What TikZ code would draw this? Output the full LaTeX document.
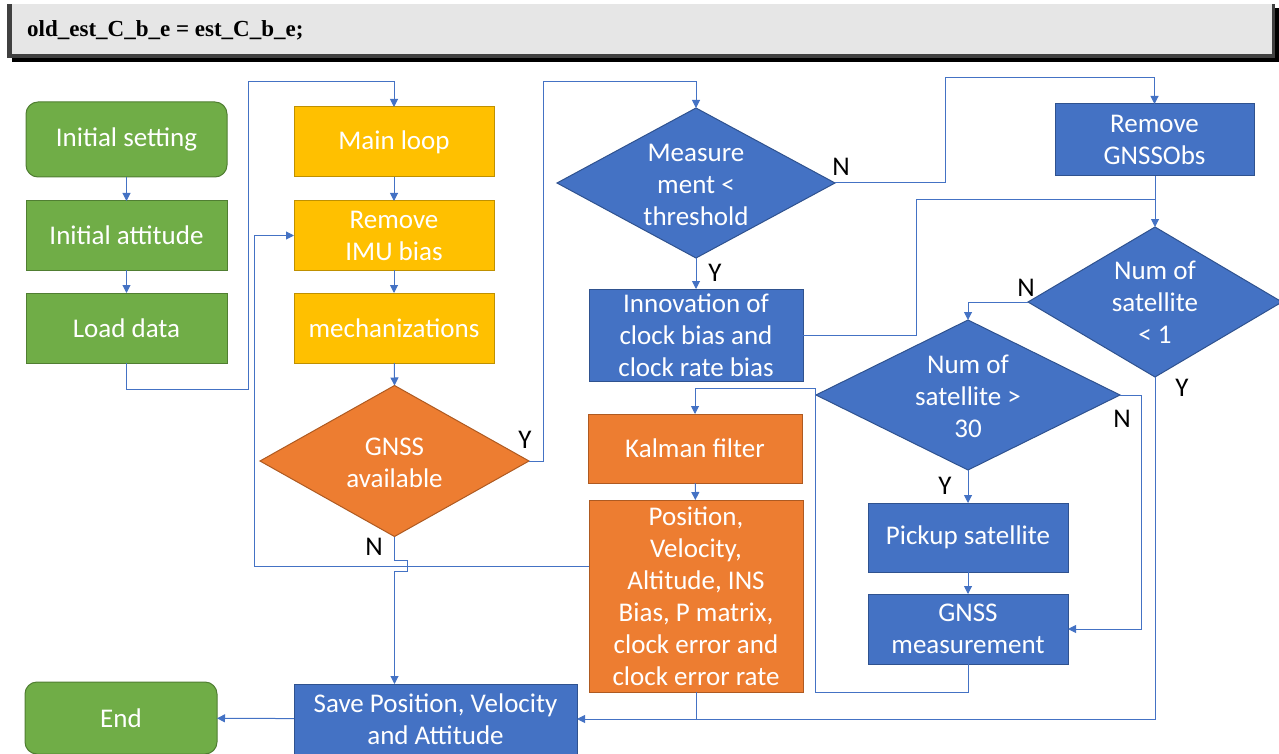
\documentclass[tikz,border=0pt]{standalone}
\usepackage{fontspec}
\setmainfont{Carlito}
\newfontfamily\tnrfont{Liberation Serif}
\usetikzlibrary{shapes.geometric,arrows.meta}
\definecolor{cgreen}{HTML}{70AD47}
\definecolor{cgreenb}{HTML}{507E32}
\definecolor{cyellow}{HTML}{FFC000}
\definecolor{cyellowb}{HTML}{BF9000}
\definecolor{corange}{HTML}{ED7D31}
\definecolor{corangeb}{HTML}{AE5A21}
\definecolor{cblue}{HTML}{4472C4}
\definecolor{cblueb}{HTML}{2F528F}
\definecolor{cline}{HTML}{4472C4}
\definecolor{barlight}{HTML}{E6E6E6}
\definecolor{bardark}{HTML}{404040}
\tikzset{
  txt/.style={font=\fontsize{27}{32}\selectfont, align=center},
  box/.style={rectangle, inner sep=0pt, outer sep=0pt, text=white, txt, line width=1pt},
  gbox/.style={box, fill=cgreen, draw=cgreenb},
  ybox/.style={box, fill=cyellow, draw=cyellowb},
  obox/.style={box, fill=corange, draw=corangeb},
  bbox/.style={box, fill=cblue, draw=cblueb},
  dia/.style={diamond, inner sep=0pt, outer sep=0pt, line width=1pt},
  dtext/.style={text=white, txt, inner sep=0pt},
  conn/.style={draw=cline, line width=1pt},
  arr/.style={conn, -{Triangle[length=8pt,width=8pt]}},
  lbl/.style={txt, text=black, inner sep=0pt}
}
\begin{document}
\begin{tikzpicture}[x=1pt,y=-1pt]
\useasboundingbox (0,0) rectangle (1279,754);
\clip (0,0) rectangle (1279,754);
% top code bar
\fill[black] (12,8) rectangle (1279,62);
\fill[bardark] (7,4) rectangle (1275,58);
\fill[barlight] (12,4) rectangle (1272,54);
\node[anchor=base west, inner sep=0pt] (code) at (27,37)
  {\tnrfont\bfseries\fontsize{23}{28}\selectfont old\_est\_C\_b\_e = est\_C\_b\_e;};

% green column
\node[gbox, rounded corners=12pt, minimum width=201pt, minimum height=75pt] (init) at (126.5,139.5) {Initial setting};
\node[gbox, minimum width=201pt, minimum height=69pt] (att) at (126.5,235.5) {Initial attitude};
\node[gbox, minimum width=201pt, minimum height=70pt] (load) at (126.5,328) {Load data};
\node[gbox, rounded corners=12pt, minimum width=192pt, minimum height=72pt] (end) at (121,718) {End};

% yellow column
\node[ybox, minimum width=200pt, minimum height=70pt] (mainloop) at (394,142) {Main loop};
\node[ybox, minimum width=200pt, minimum height=69pt] (rimu) at (394,235.5) {Remove\\IMU bias};
\node[ybox, minimum width=200pt, minimum height=70pt] (mech) at (394,328) {mechanizations};

% GNSS available
\node[dia, fill=corange, draw=corangeb, minimum width=269pt, minimum height=151pt] (gnss) at (394.5,461) {};
\node[dtext] (gnsst) at (394.5,463) {GNSS\\available};

% save
\node[bbox, minimum width=283pt, minimum height=70pt] (save) at (435.5,719) {Save Position, Velocity\\and Attitude};

% measurement column
\node[dia, fill=cblue, draw=cblueb, minimum width=278pt, minimum height=150pt] (meas) at (696,183) {};
\node[dtext] (meast) at (696,185) {Measure\\ment <\\threshold};
\node[bbox, minimum width=214pt, minimum height=92pt] (inno) at (696,335) {Innovation of\\clock bias and\\clock rate bias};
\node[obox, minimum width=214pt, minimum height=69pt] (kal) at (695,448.5) {Kalman filter};
\node[obox, minimum width=214pt, minimum height=192pt] (pos) at (696,596) {Position,\\Velocity,\\Altitude, INS\\Bias, P matrix,\\clock error and\\clock error rate};

% right part
\node[bbox, minimum width=199pt, minimum height=72pt] (rgnss) at (1154.5,140) {Remove\\GNSSObs};
\node[dia, fill=cblue, draw=cblueb, minimum width=254pt, minimum height=150pt] (sat1) at (1155,302) {};
\node[dtext] (sat1t) at (1155,302) {Num of\\satellite\\< 1};
\node[dia, fill=cblue, draw=cblueb, minimum width=304pt, minimum height=150pt] (sat30) at (968,395) {};
\node[dtext] (sat30t) at (968,396) {Num of\\satellite >\\30};
\node[bbox, minimum width=200pt, minimum height=69pt] (pick) at (968,537.5) {Pickup satellite};
\node[bbox, minimum width=200pt, minimum height=70pt] (gmeas) at (968,629) {GNSS\\measurement};

% connectors
\draw[arr] (init) -- (att);
\draw[arr] (att) -- (load);
\draw[arr] (load.south) -- (126.5,389) -| (248,82) -| (mainloop.north);
\draw[arr] (mainloop) -- (rimu);
\draw[arr] (rimu) -- (mech);
\draw[arr] (mech) -- (gnss.north);
\draw[arr] (gnss.east) -| (543,82) -| (meas.north);
\draw[arr] (meas.east) -| (945,78) -| (rgnss.north);
\draw[arr] (meas.south) -- (inno.north);
\draw[conn] (inno.east) -| (916,200) -- (1155,200);
\draw[arr] (rgnss.south -| sat1.north) -- (sat1.north);
\draw[arr] (sat1.west) -| (sat30.north);
\draw[arr] (sat30.south) -- (pick.north);
\draw[arr] (pick) -- (gmeas);
\draw[arr] (sat30.east) -- (1141,395) |- (gmeas.east);
\draw[arr] (gmeas.south) |- (815,692) -- (815,388) -| (kal.north);
\draw[arr] (kal) -- (pos);
\draw[conn] (pos.south) -- (696,719);
\draw[arr] (sat1.south) |- (save.east);
\draw[arr] ([yshift=30pt]pos.west) -| (254,235.5) -- (rimu.west);
\draw[arr] (gnss.south) -- (394.5,560) -- (407,560) -- (407,571) -- (394.5,571) -- (gnss.south |- save.north);
\draw[arr] (save) -- (end);

% labels
\node[lbl] (ly1) at (525,440) {Y};
\node[lbl] (ln1) at (374,547) {N};
\node[lbl] (ln2) at (841,167) {N};
\node[lbl] (ly2) at (715,273) {Y};
\node[lbl] (ln3) at (1026,288) {N};
\node[lbl] (ly3) at (1182,388) {Y};
\node[lbl] (ly4) at (945,486) {Y};
\node[lbl] (ln4) at (1122,419) {N};
\end{tikzpicture}
\end{document}
